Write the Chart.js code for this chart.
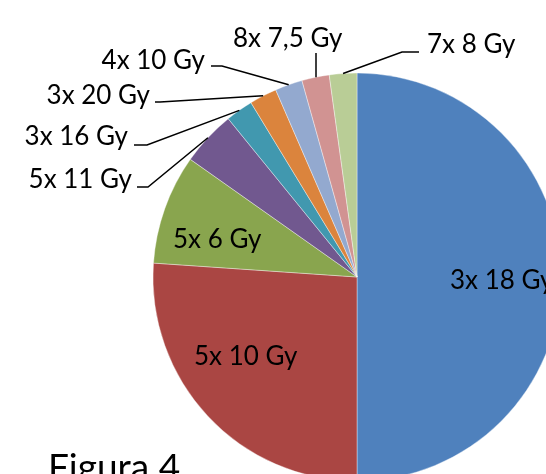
<!DOCTYPE html>
<html>
<head>
<meta charset="utf-8">
<script src="https://cdn.jsdelivr.net/npm/chart.js@4.4.1/dist/chart.umd.min.js"></script>
<style>
    html, body { margin: 0; padding: 0; width: 546px; height: 474px; overflow: hidden; background: #fff; }
    #wrap { position: absolute; left: 0; top: 0; width: 600px; height: 500px; }
    #caption { position: absolute; left: 48px; top: 443px; font: 37px Lato, sans-serif; color: #000; }
</style>
</head>
<body>
<div id="wrap"><canvas id="chart" width="600" height="500"></canvas></div>
<div id="caption">Figura 4</div>
<script>
// Setup Block
const labels = ['3x 18 Gy', '5x 10 Gy', '5x 6 Gy', '5x 11 Gy', '3x 16 Gy', '3x 20 Gy', '4x 10 Gy', '8x 7,5 Gy', '7x 8 Gy'];
const patients = [23, 12, 4, 2, 1, 1, 1, 1, 1];
const colors = ['#4F81BD', '#AA4643', '#89A54E', '#71588F', '#4198AF', '#DB843D', '#93A9CF', '#D19392', '#B9CD96'];

// label placement: text x / baseline, optional elbow point for the leader line
const labelLayout = [
    { x: 450, y: 289, align: 'left' },
    { x: 194, y: 365, align: 'left' },
    { x: 173, y: 248, align: 'left' },
    { x: 132, y: 188, align: 'right', line: [[137, 187], [148, 187]] },
    { x: 128, y: 145, align: 'right', line: [[134, 145], [147, 145]] },
    { x: 150, y: 104, align: 'right', line: [[155, 102], [160, 102]] },
    { x: 205, y: 69, align: 'right', line: [[211, 66], [222, 66]] },
    { x: 233, y: 47, align: 'left', line: [[316, 53], [316, 53]], vertical: true },
    { x: 427, y: 53, align: 'left', line: [[419, 52], [402, 52]] }
];

const labelPlugin = {
    id: 'sliceLabels',
    afterDatasetsDraw(chart) {
        const ctx = chart.ctx;
        const meta = chart.getDatasetMeta(0);
        ctx.save();
        ctx.font = '26px Lato';
        ctx.fillStyle = '#000';
        ctx.strokeStyle = '#000';
        ctx.lineWidth = 1.5;
        meta.data.forEach((arc, i) => {
            const p = arc.getProps(['x', 'y', 'startAngle', 'endAngle', 'outerRadius'], true);
            const mid = (p.startAngle + p.endAngle) / 2;
            let ax = p.x + Math.cos(mid) * p.outerRadius;
            let ay = p.y + Math.sin(mid) * p.outerRadius;
            const lay = labelLayout[i];
            if (lay.line) {
                if (lay.vertical) ax = lay.line[0][0];
                ctx.beginPath();
                ctx.moveTo(lay.line[0][0], lay.line[0][1]);
                ctx.lineTo(lay.line[1][0], lay.line[1][1]);
                ctx.lineTo(ax, ay);
                ctx.stroke();
            }
            ctx.textAlign = lay.align;
            ctx.textBaseline = 'alphabetic';
            ctx.fillText(labels[i], lay.x, lay.y);
        });
        ctx.restore();
    }
};

// Config Block
const config = {
    type: 'pie',
    data: {
        labels: labels,
        datasets: [{
            data: patients,
            backgroundColor: colors,
            borderColor: 'rgba(255,255,255,0.5)',
            borderWidth: 0.75
        }]
    },
    options: {
        responsive: false,
        animation: false,
        radius: 204,
        layout: { padding: { left: 153, top: 73, right: 39, bottom: 19 } },
        plugins: {
            legend: { display: false },
            tooltip: { enabled: false },
            title: { display: false }
        }
    },
    plugins: [labelPlugin]
};

// Render Block
document.fonts.load('26px Lato').then(() => {
    new Chart(document.getElementById('chart'), config);
});
</script>
</body>
</html>
